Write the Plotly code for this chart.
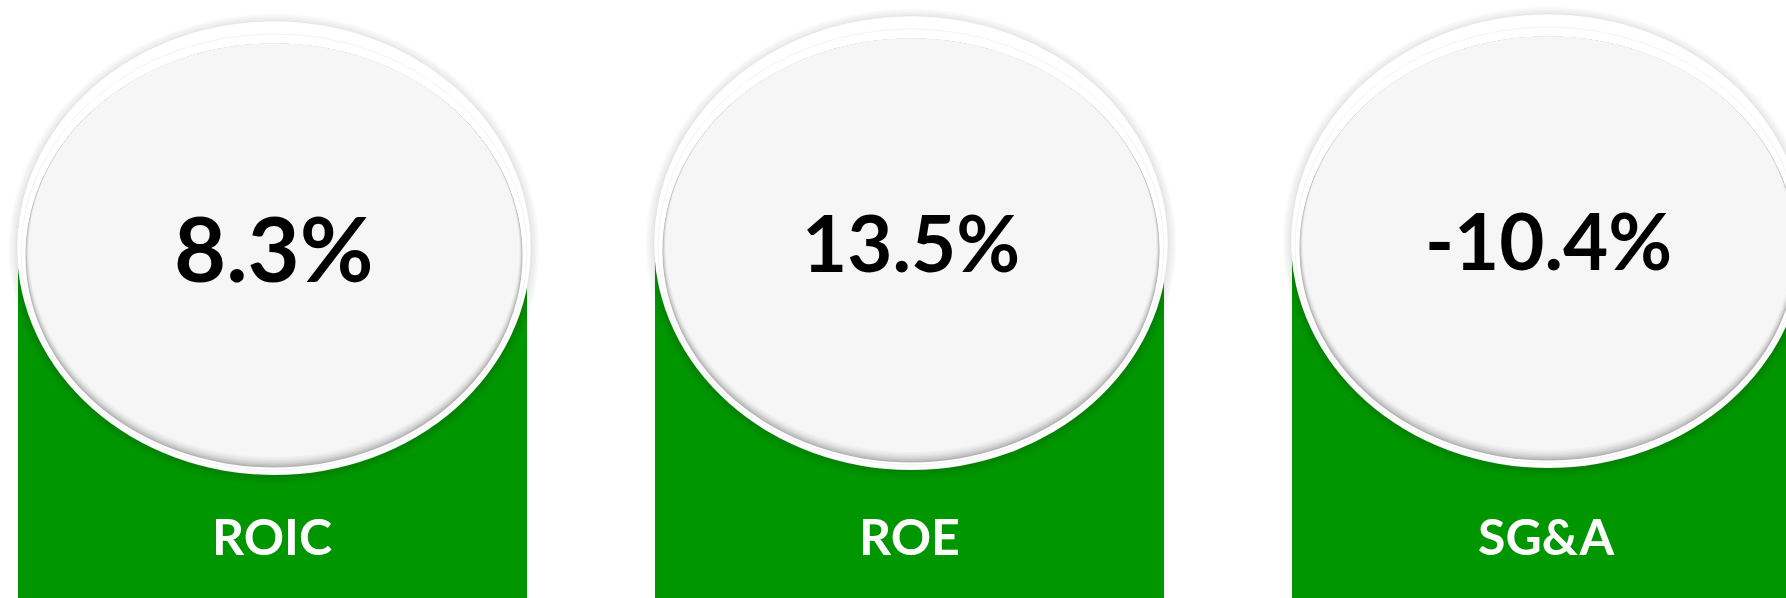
import plotly.graph_objects as go

# ---- data ----
categories = ["ROIC", "ROE", "SG&A"]
values = [8.3, 13.5, -10.4]
value_labels = [f"{v:.1f}%" for v in values]

# ---- layout / style constants (pixels) ----
W, H = 1786, 598
X0_PX = 272      # pixel centre of first panel
STEP_PX = 637    # pixel distance between panels
BAR_W_PX = 509
BAR_TOP_PX = 226
PANEL_CY_PX = [248, 243, 241]   # ellipse centres (pixels from top)
VALUE_FONT_SIZES = [90, 78, 78]
LABEL_Y_PX = 536
GREEN = "#009600"


def dx(px):
    return px / STEP_PX


def dy(py_from_top):
    return H - py_from_top


n = len(categories)
fig = go.Figure()
fig.add_trace(go.Bar(
    x=list(range(n)),
    y=[dy(BAR_TOP_PX)] * n,
    width=dx(BAR_W_PX),
    marker=dict(color=GREEN, line=dict(width=0)),
    hoverinfo="skip",
    showlegend=False,
))

shapes = []


def ell(i, cx_off, cy_px, hw, hh, fill, line_color=None, line_w=0):
    shapes.append(dict(
        type="circle", xref="x", yref="y", layer="above",
        x0=i + dx(cx_off - hw), x1=i + dx(cx_off + hw),
        y0=dy(cy_px + hh), y1=dy(cy_px - hh),
        fillcolor=fill,
        line=dict(color=line_color or "rgba(0,0,0,0)", width=line_w),
    ))


for i in range(n):
    cy = PANEL_CY_PX[i]
    cxo = 2
    # soft outer shadow
    for k in range(6, 0, -1):
        ell(i, cxo, cy + 1, 257 + k * 1.4, 227 + k * 1.4, "rgba(0,0,0,0.016)")
    # outer white ring
    ell(i, cxo, cy, 257, 227, "#ffffff", "rgba(0,0,0,0.05)", 1)
    # faint inner line in the ring
    ell(i, cxo, cy + 4, 253, 218, "#ffffff", "rgba(0,0,0,0.05)", 1)
    # inner disc with inner shadow (darker at the bottom)
    steps = ["#b4b4b4", "#c2c2c2", "#cfcfcf", "#dadada", "#e3e3e3", "#eaeaea", "#f0f0f0", "#f6f6f6"]
    for s, col in enumerate(steps):
        ell(i, cxo, cy + 7.5 - s * 0.75, 248.5 - s * 0.45, 212 - s * 0.75, col)

annotations = []
for i in range(n):
    annotations.append(dict(
        x=i + dx(2), y=dy(PANEL_CY_PX[i] - 1), xref="x", yref="y",
        text=f"<b>{value_labels[i]}</b>", showarrow=False,
        font=dict(family="Lato", size=VALUE_FONT_SIZES[i], color="#000000"),
        xanchor="center", yanchor="middle",
    ))
    annotations.append(dict(
        x=i, y=dy(LABEL_Y_PX), xref="x", yref="y",
        text=f"<b>{categories[i]}</b>", showarrow=False,
        font=dict(family="Lato", size=50, color="#ffffff"),
        xanchor="center", yanchor="middle",
    ))

fig.update_layout(
    width=W, height=H,
    margin=dict(l=0, r=0, t=0, b=0),
    paper_bgcolor="#ffffff", plot_bgcolor="#ffffff",
    shapes=shapes, annotations=annotations,
    showlegend=False,
    xaxis=dict(range=[dx(-X0_PX), dx(W - X0_PX)], visible=False, fixedrange=True),
    yaxis=dict(range=[0, H], visible=False, fixedrange=True),
    bargap=0,
)

fig.write_html(
    "out.html",
    config={"displayModeBar": False},
    post_script="document.body.style.margin='0';document.body.style.overflow='hidden';",
)
